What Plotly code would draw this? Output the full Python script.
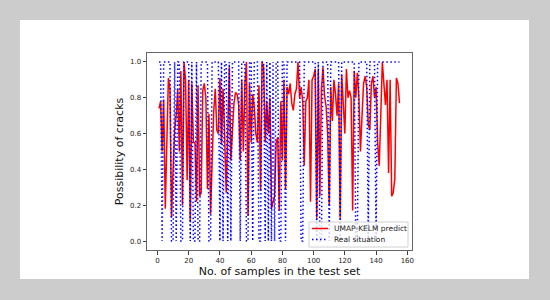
import plotly.graph_objects as go

# ---- data ----
sample_no = list(range(1, 156))

predict = [
    0.74, 0.78, 0.50, 0.79, 0.18, 0.55, 0.91, 0.85, 0.13, 0.40,
    0.62, 0.70, 0.85, 0.50, 0.95, 0.20, 1.00, 0.90, 0.34, 0.90,
    0.11, 0.88, 0.55, 0.55, 0.22, 0.87, 0.25, 0.27, 0.84, 0.88,
    0.80, 0.29, 0.71, 0.15, 0.50, 0.72, 0.85, 0.62, 0.60, 0.91,
    0.54, 0.85, 0.60, 0.27, 0.60, 0.97, 0.45, 0.62, 0.77, 0.83,
    0.82, 0.76, 0.45, 0.90, 0.50, 0.88, 1.00, 0.14, 0.88, 0.55,
    0.82, 0.75, 0.60, 0.55, 0.87, 0.28, 1.00, 0.97, 0.55, 0.78,
    0.60, 0.80, 0.18, 0.22, 0.25, 0.55, 0.58, 0.17, 0.78, 0.45,
    0.90, 0.29, 0.86, 0.82, 0.88, 0.77, 0.73, 0.82, 0.85, 1.00,
    0.80, 0.86, 0.78, 0.42, 0.78, 0.80, 0.90, 0.22, 0.90, 0.92,
    0.96, 0.13, 0.95, 0.25, 0.85, 0.97, 0.81, 0.75, 0.60, 0.20,
    0.86, 0.67, 0.90, 0.82, 0.70, 0.88, 0.13, 0.93, 0.75, 0.60,
    0.96, 0.80, 0.84, 0.80, 0.17, 0.95, 0.80, 0.94, 0.80, 0.50,
    0.70, 0.88, 0.92, 0.86, 0.65, 0.62, 0.88, 0.92, 0.80, 0.86,
    0.55, 0.42, 0.70, 1.00, 0.88, 0.76, 0.90, 0.38, 0.90, 0.25,
    0.27, 0.35, 0.91, 0.88, 0.77,
]

real_zero_samples = [3, 9, 10, 12, 15, 16, 21, 23, 24, 26, 27, 33, 34, 40, 42,
                     45, 47, 53, 57, 58, 61, 65, 66, 69, 71, 73, 75, 78, 79,
                     82, 92, 93, 102, 104, 105, 110, 117, 127, 128, 135, 140]
real = [0 if s in real_zero_samples else 1 for s in sample_no]

series_names = ["UMAP-KELM predict", "Real situation"]
x_ticks = [0, 20, 40, 60, 80, 100, 120, 140, 160]
y_ticks = [0.0, 0.2, 0.4, 0.6, 0.8, 1.0]
y_tick_text = ["0.0", "0.2", "0.4", "0.6", "0.8", "1.0"]

RED = "#ff0000"
BLUE = "#0000ff"
BLUE_DASH = "1.5px,2.5px"

# ---- figure ----
fig = go.Figure()
fig.add_trace(go.Scatter(
    x=sample_no, y=predict, mode="lines", name=series_names[0],
    line=dict(color=RED, width=1.5), showlegend=False,
))
fig.add_trace(go.Scatter(
    x=sample_no, y=real, mode="lines", name=series_names[1],
    line=dict(color=BLUE, width=1.5, dash=BLUE_DASH), showlegend=False,
))

L, R, T, B = 147, 412, 53, 250
W, H = 550, 300
pw, ph = R - L, B - T

def px_x(px):
    return (px - L) / pw

def px_y(py):
    return (B - py) / ph

# white panel on the grey page
fig.add_shape(type="rect", xref="paper", yref="paper",
              x0=px_x(20), x1=px_x(529), y0=px_y(279), y1=px_y(20),
              fillcolor="white", line=dict(width=0), layer="below")

# legend box (matplotlib style)
fig.add_shape(type="rect", xref="paper", yref="paper",
              x0=px_x(309), x1=px_x(408), y0=px_y(247), y1=px_y(222),
              fillcolor="rgba(255,255,255,0.8)", line=dict(color="#d0d0d0", width=1),
              layer="above")
for i, (name, color, dash) in enumerate([(series_names[0], RED, "solid"),
                                         (series_names[1], BLUE, BLUE_DASH)]):
    yy = 228.5 + i * 11
    fig.add_shape(type="line", xref="paper", yref="paper",
                  x0=px_x(312), x1=px_x(328), y0=px_y(yy), y1=px_y(yy),
                  line=dict(color=color, width=1.5, dash=dash), layer="above")
    fig.add_annotation(xref="paper", yref="paper", x=px_x(332), y=px_y(yy),
                       xanchor="left", yanchor="middle", showarrow=False,
                       text=name, font=dict(family="DejaVu Sans", size=7.5, color="#222"))

axis_common = dict(
    showgrid=False, zeroline=False, showline=True, mirror=True,
    linecolor="#666", linewidth=1, ticks="outside", ticklen=3.5,
    tickwidth=1, tickcolor="#444",
    tickfont=dict(family="DejaVu Sans", size=7, color="#222"),
)

fig.update_layout(
    width=W, height=H,
    margin=dict(l=L, r=W - R, t=T, b=H - B, pad=0),
    paper_bgcolor="#cccccc", plot_bgcolor="white",
    font=dict(family="DejaVu Sans", color="#111"),
    xaxis=dict(range=[-6.7, 163], tickvals=x_ticks,
               title=dict(text="No. of samples in the test set",
                          font=dict(size=11, color="#111"), standoff=3),
               **axis_common),
    yaxis=dict(range=[-0.05, 1.05], tickvals=y_ticks, ticktext=y_tick_text,
               title=dict(text="Possibility of cracks",
                          font=dict(size=11, color="#111"), standoff=4),
               **axis_common),
    showlegend=False,
)

fig.write_html("out.html",
               config={"displayModeBar": False, "staticPlot": True},
               post_script="document.body.style.margin='0';document.body.style.overflow='hidden';")
